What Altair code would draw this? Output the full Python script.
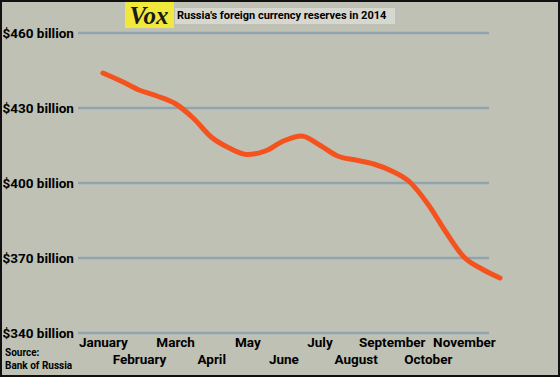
import json
import altair as alt
import pandas as pd

# half-month steps from January (0) to December (11)
month_pos = [i / 2 for i in range(23)]
reserves = [444, 440.8, 437.2, 434.8, 431.8, 426, 418.4, 414, 411.4, 412.8,
            416.8, 418.8, 415.2, 410.8, 409.2, 407.6, 404.8, 400.4, 391.6,
            380.4, 370.4, 365.6, 362]
months = ["January", "February", "March", "April", "May", "June", "July",
          "August", "September", "October", "November"]
y_ticks = [340, 370, 400, 430, 460]
title_text = "Russia's foreign currency reserves in 2014"
source_lines = ["Source:", "Bank of Russia"]

df = pd.DataFrame({"m": month_pos, "v": reserves})
grid_df = pd.DataFrame({"v": y_ticks})

FONT = "Roboto"
yscale = alt.Scale(domain=[340, 460], nice=False, zero=False)
xscale = alt.Scale(domain=[-0.69, 11], nice=False, zero=False)

y_axis = alt.Axis(values=y_ticks, labelExpr="'$' + datum.value + ' billion'",
                  domain=False, ticks=False, grid=False, labelFont=FONT,
                  labelFontWeight="bold", labelFontSize=13.5, labelColor="black",
                  labelAlign="left", labelBaseline="middle", labelPadding=76,
                  labelOverlap=False, labelFlush=False)

grid = alt.Chart(grid_df).mark_rule(color="#8fa4b0", strokeWidth=2.5).encode(
    y=alt.Y("v:Q", scale=yscale, title=None, axis=y_axis),
    x=alt.value(0), x2=alt.value(411),
)

line = alt.Chart(df).mark_line(
    interpolate="monotone", color="#f4531f", strokeWidth=5, strokeCap="round"
).encode(
    x=alt.X("m:Q", scale=xscale, title=None,
            axis=alt.Axis(values=list(range(11)), labelExpr=f"{json.dumps(months)}[datum.value]",
                          domain=False, ticks=False, grid=False, labelFont=FONT,
                          labelFontWeight="bold", labelFontSize=13.5, labelColor="black",
                          labelBaseline="top", labelOverlap=False, labelFlush=False,
                          labelPadding={"condition": {"test": "datum.value % 2 == 1", "value": 19},
                                        "value": 2})),
    y=alt.Y("v:Q", scale=yscale, title=None, axis=y_axis),
)

one = alt.Data(values=[{"a": 1}])

vox_box = alt.Chart(one).mark_rect(color="#f2e83b").encode(
    x=alt.value(47), x2=alt.value(96), y=alt.value(-33), y2=alt.value(-5))
vox_text = alt.Chart(one).mark_text(
    text="Vox", font="Liberation Serif", fontStyle="italic", fontWeight="bold",
    fontSize=25, color="#1a1a1a", align="center", baseline="middle"
).encode(x=alt.value(71), y=alt.value(-17))
title_box = alt.Chart(one).mark_rect(color="#d6d7cf").encode(
    x=alt.value(97), x2=alt.value(317), y=alt.value(-25), y2=alt.value(-9))
title = alt.Chart(one).mark_text(
    text=title_text, font=FONT, fontWeight="bold", fontSize=11, color="black",
    align="left", baseline="middle"
).encode(x=alt.value(99), y=alt.value(-17))
src1 = alt.Chart(one).mark_text(
    text=source_lines[0], font=FONT, fontWeight="bold", fontSize=10, color="black",
    align="left", baseline="middle").encode(x=alt.value(-73), y=alt.value(320))
src2 = alt.Chart(one).mark_text(
    text=source_lines[1], font=FONT, fontWeight="bold", fontSize=10, color="black",
    align="left", baseline="middle").encode(x=alt.value(-73), y=alt.value(333))
border = alt.Chart(one).mark_rect(fill=None, stroke="#111111", strokeWidth=2).encode(
    x=alt.value(-77), x2=alt.value(481), y=alt.value(-32), y2=alt.value(343))

chart = alt.layer(grid, line, vox_box, vox_text, title_box, title, src1, src2, border).properties(
    width=422, height=300,
    autosize=alt.AutoSizeParams(type="none"),
    padding={"left": 78, "top": 33, "right": 60, "bottom": 44},
).configure(background="#bfc1b4").configure_view(stroke=None)

chart.save("out.html", embed_options={"renderer": "svg", "actions": False})
